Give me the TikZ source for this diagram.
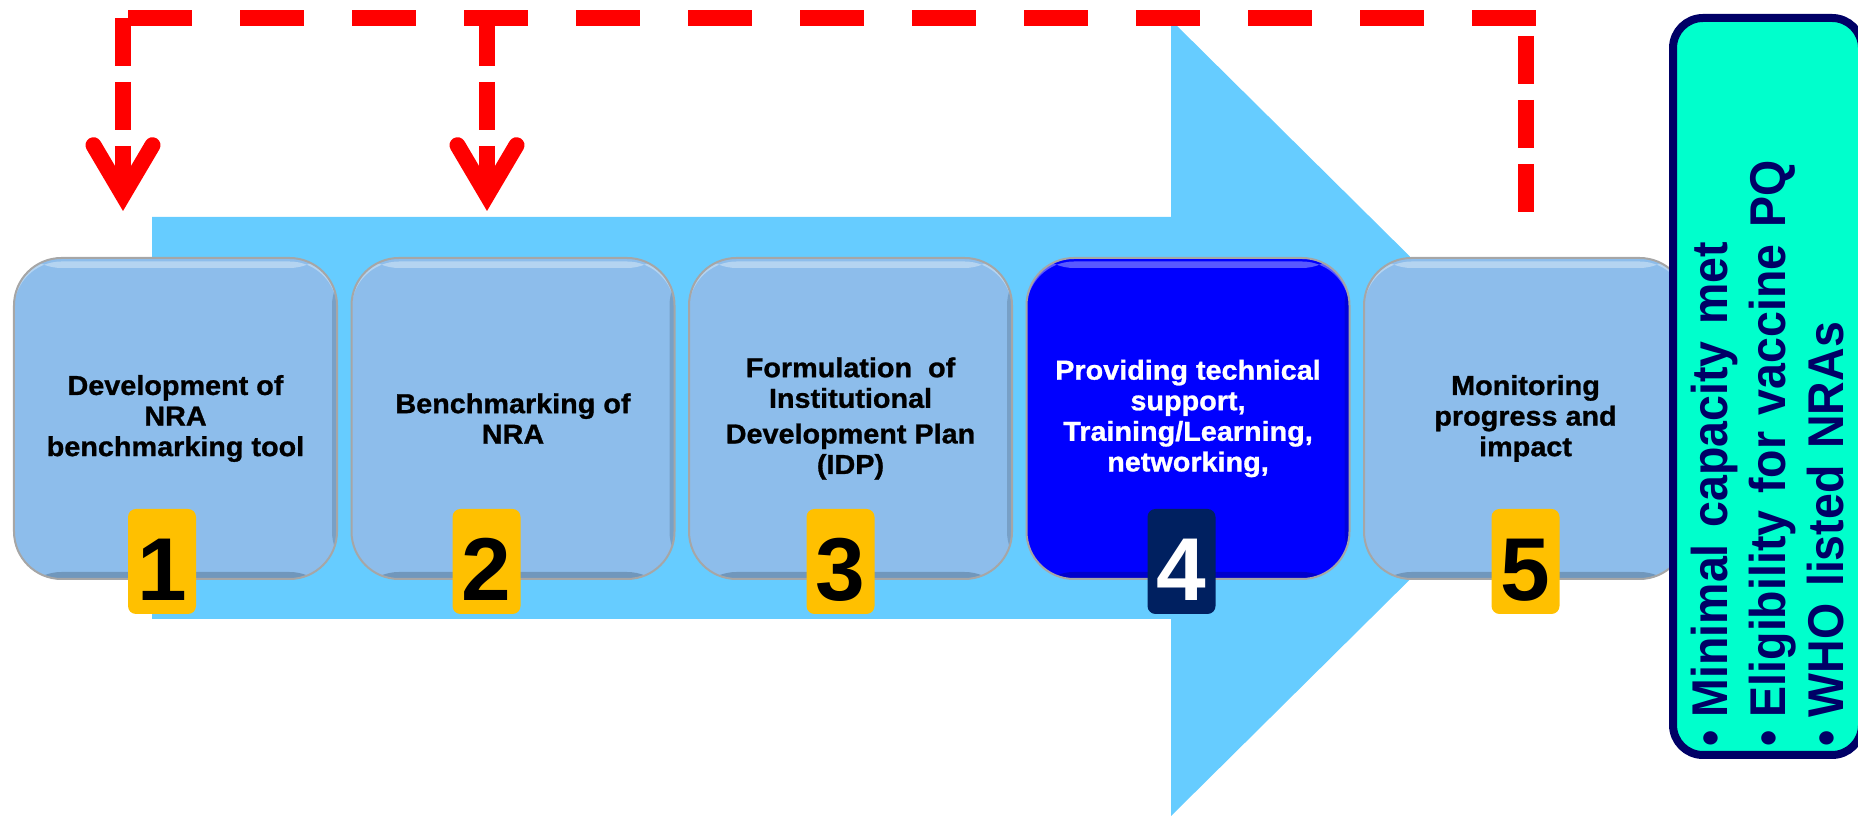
\documentclass[tikz,border=0pt]{standalone}
\usepackage{fontspec}
\setmainfont{Liberation Sans}
\newfontfamily\stepfont[FakeStretch=1.05, FakeBold=1]{Liberation Sans}
\newfontfamily\outfont[FakeStretch=0.925]{Liberation Sans}
\usepackage{tikz}
\usetikzlibrary{positioning, calc, arrows.meta}
\definecolor{shaftblue}{RGB}{102,204,255}
\definecolor{stepblue}{RGB}{141,189,235}
\definecolor{activeblue}{RGB}{0,0,255}
\definecolor{badgeyellow}{RGB}{255,192,0}
\definecolor{badgenavy}{RGB}{0,32,96}
\definecolor{outgreen}{RGB}{0,255,204}
\definecolor{outnavy}{RGB}{0,0,102}

\begin{document}
\begin{tikzpicture}[
  stepbox/.style={rectangle, rounded corners=0.95cm, minimum width=6.46cm, minimum height=6.42cm, outer sep=0pt, inner sep=0.1cm, draw=black!35, line width=0.04cm, fill=stepblue, align=center, font=\stepfont\bfseries\fontsize{15.6}{17.4}\selectfont,
    path picture={\fill[white, opacity=0.35] ([yshift=-0.07cm]path picture bounding box.north west) rectangle ([yshift=-0.2cm]path picture bounding box.north east);
      \fill[black, opacity=0.2] (path picture bounding box.south west) rectangle ([yshift=0.14cm]path picture bounding box.south east);
      \fill[black, opacity=0.15] (path picture bounding box.south east) rectangle ([xshift=-0.1cm]path picture bounding box.north east);}},
  badge/.style={rectangle, rounded corners=0.16cm, minimum width=1.36cm, minimum height=2.1cm, inner sep=0pt, fill=badgeyellow, font=\bfseries\fontsize{50.8}{50.8}\selectfont, text height=1.56cm, text depth=0pt},
  outcome/.style={rectangle, rounded corners=0.6cm, draw=outnavy, line width=0.16cm, fill=outgreen, minimum width=14.74cm, minimum height=3.78cm, inner xsep=0.17cm, text width=14.4cm, align=left, text=outnavy, font=\outfont\bfseries\fontsize{28.6}{33}\selectfont},
  fbline/.style={draw=red, line width=0.32cm},
  fbdown/.style={fbline, dash pattern=on 0.96cm off 0.32cm},
  fbacross/.style={fbline, dash pattern=on 1.28cm off 0.96cm},
  fbhead/.style={-{Straight Barb[length=1cm, width=1.18cm, line cap=round, line join=miter]}}
]
\useasboundingbox (0,0) rectangle (37.16,16.32);

\fill[shaftblue] (3.04,3.94) -- (23.42,3.94) -- (23.42,0) -- (31.46,7.96) -- (23.42,15.92) -- (23.42,11.98) -- (3.04,11.98) -- cycle;

\node[stepbox] (box1) at (3.51,7.95) {Development of\\NRA\\benchmarking tool};
\node[stepbox, right=0.29cm of box1] (box2) {Benchmarking of\\NRA};
\node[stepbox, right=0.29cm of box2] (box3) {Formulation~~of\\Institutional\\[0.1cm]Development Plan\\(IDP)};
\node[stepbox, fill=activeblue, text=white, right=0.29cm of box3] (box4) {Providing technical\\support,\\Training/Learning,\\networking,};
\node[stepbox, right=0.29cm of box4] (box5) {Monitoring\\progress and\\impact};

\node[badge] (num1) at ([xshift=-0.27cm, yshift=0.35cm]box1.south) {1};
\node[badge] (num2) at ([xshift=-0.53cm, yshift=0.35cm]box2.south) {2};
\node[badge] (num3) at ([xshift=-0.2cm, yshift=0.35cm]box3.south) {3};
\node[badge, fill=badgenavy, text=white] (num4) at ([xshift=-0.13cm, yshift=0.35cm]box4.south) {4};
\node[badge] (num5) at ([yshift=0.35cm]box5.south) {5};

\node[outcome, rotate=90] (goal) at (35.35,8.59) {\textbullet\hspace{0.26cm}Minimal capacity met\\
\textbullet\hspace{0.26cm}Eligibility for vaccine PQ\\
\textbullet\hspace{0.26cm}WHO listed NRAs};

\coordinate (tip1) at ($(box1.north)+(-1.05,0.94)$);
\coordinate (tip2) at ($(box2.north)+(-0.52,0.94)$);
\coordinate (loopend) at ($(box5.north)+(0,0.92)$);

\draw[fbdown] ($(loopend)+(0,3.52)$) -- (loopend);
\draw[fbacross] ($(tip1)+(0.1,3.86)$) -- ($(loopend)+(0.2,3.88)$);
\draw[fbdown, fbhead] ($(tip1)+(0,3.86)$) -- (tip1);
\draw[fbdown, fbhead] ($(tip2)+(0,3.86)$) -- (tip2);

\end{tikzpicture}
\end{document}
